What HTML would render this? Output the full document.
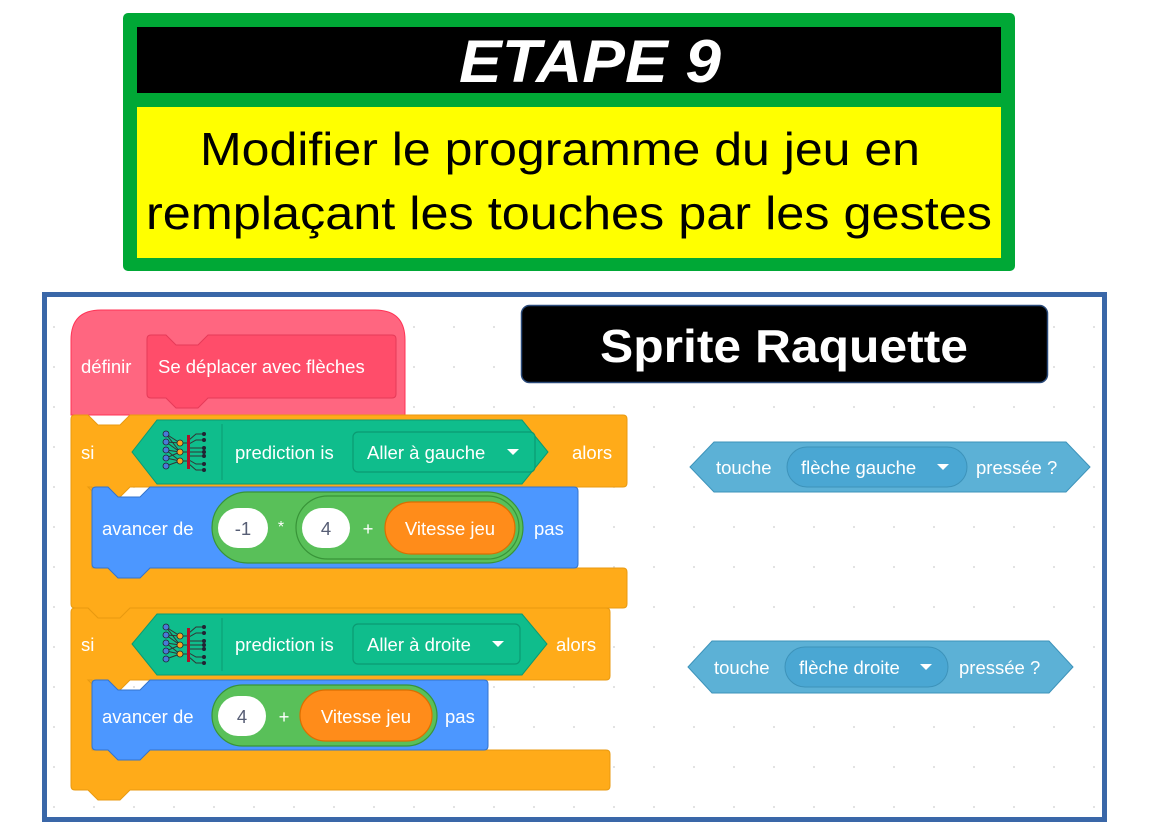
<!DOCTYPE html>
<html><head><meta charset="utf-8"><style>
html,body{margin:0;padding:0;background:#fff;width:1168px;height:832px;overflow:hidden}
svg{display:block}
text{font-family:"Liberation Sans",sans-serif}
</style></head><body>
<svg width="1168" height="832" viewBox="0 0 1168 832" xmlns="http://www.w3.org/2000/svg">
<defs>
<pattern id="dots" x="0" y="0" width="40" height="40" patternUnits="userSpaceOnUse">
<circle cx="14" cy="7" r="1" fill="#d8d8d8"/>
</pattern>
<g id="nn">
<g stroke="#333" stroke-width="1" fill="none">
<path d="M0 0 L14 9 M0 8 L14 9 M0 8 L14 18 M0 16 L14 18 M0 16 L14 27 M0 24 L14 27 M0 24 L14 18 M0 32 L14 27 M0 0 L14 18"/>
<path d="M14 9 H23 M14 18 H23 M14 27 H23"/>
<path d="M23 6 L30 0 H38 M23 10 L30 6 H38 M23 14 H38 M23 18 H38 M23 22 H38 M23 26 L30 30 H38 M23 30 L30 36 H38"/>
</g>
<rect x="21" y="1" width="3" height="34" fill="#b0102a"/>
<g fill="#4a7ad8" stroke="#223" stroke-width="0.8"><circle cx="0" cy="0" r="3"/><circle cx="0" cy="8" r="3"/><circle cx="0" cy="16" r="3"/><circle cx="0" cy="24" r="3"/><circle cx="0" cy="32" r="3"/></g>
<g fill="#f5a623" stroke="#223" stroke-width="0.8"><circle cx="14" cy="9" r="3"/><circle cx="14" cy="18" r="3"/><circle cx="14" cy="27" r="3"/></g>
<g fill="#223"><circle cx="38" cy="0" r="2"/><circle cx="38" cy="6" r="2"/><circle cx="38" cy="14" r="2"/><circle cx="38" cy="18" r="2"/><circle cx="38" cy="22" r="2"/><circle cx="38" cy="30" r="2"/><circle cx="38" cy="36" r="2"/></g>
</g>
</defs>

<rect x="123" y="13" width="892" height="258" rx="5" fill="#00a836"/>
<rect x="137" y="27" width="864" height="66" fill="#000"/>
<rect x="137" y="107" width="864" height="151" fill="#ffff00"/>
<text x="590" y="82" text-anchor="middle" font-size="60" font-weight="bold" font-style="italic" fill="#fff" textLength="262" lengthAdjust="spacingAndGlyphs">ETAPE 9</text>
<text x="200" y="165" font-size="46" fill="#000" textLength="720" lengthAdjust="spacingAndGlyphs">Modifier le programme du jeu en</text>
<text x="146" y="229" font-size="46" fill="#000" textLength="846" lengthAdjust="spacingAndGlyphs">remplaçant les touches par les gestes</text>

<rect x="44.5" y="294.5" width="1060" height="525" fill="#fff" stroke="#3a67a8" stroke-width="5"/>
<rect x="48" y="298" width="1053" height="518" fill="url(#dots)"/>

<rect x="521.5" y="305.5" width="526" height="77" rx="8" fill="#000" stroke="#2a4a7a" stroke-width="1.5"/>
<text x="600" y="362" font-size="46" font-weight="bold" fill="#fff" textLength="368" lengthAdjust="spacingAndGlyphs">Sprite Raquette</text>

<path d="M71 415 V340 Q71 310 101 310 H375 Q405 310 405 340 V415 Z" fill="#ff6680" stroke="#ff3355" stroke-width="1"/>
<path d="M147 339 Q147 335 151 335 H166 L176 345 H198 L208 335 H392 Q396 335 396 339 V394 Q396 398 392 398 H208 L198 408 H176 L166 398 H151 Q147 398 147 394 Z" fill="#ff4d6a" stroke="#e63a58" stroke-width="1"/>
<text x="81" y="373" font-size="18.5" fill="#fff">définir</text>
<text x="158" y="373" font-size="18.5" fill="#fff">Se déplacer avec flèches</text>

<path d="M71 419 Q71 415 75 415 H88 L98 425 H120 L130 415 H623 Q627 415 627 419 V483 Q627 487 623 487 H130 L120 497 H98 L88 487 H92 V568 H623 Q627 568 627 572 V604 Q627 608 623 608 H130 L120 618 H98 L88 608 H75 Q71 608 71 604 Z" fill="#ffab19" stroke="#e89a10" stroke-width="1"/>
<text x="81" y="459" font-size="18.5" fill="#fff">si</text>
<text x="572" y="459" font-size="18.5" fill="#fff">alors</text>
<path d="M132 452 L157 420 H522 L548 452 L522 484 H157 Z" fill="#0fbd8c" stroke="#0b9a72" stroke-width="1"/>
<use href="#nn" x="166" y="434"/>
<line x1="222" y1="424" x2="222" y2="480" stroke="#0b9a72" stroke-width="1"/>
<text x="235" y="459" font-size="18.5" fill="#fff">prediction is</text>
<rect x="353" y="432" width="182" height="40" rx="5" fill="#0fbd8c" stroke="#0b9a72" stroke-width="1.2"/>
<text x="367" y="459" font-size="18.5" fill="#fff">Aller à gauche</text>
<path d="M507 449 L519 449 L513 455 Z" fill="#fff"/>

<path d="M92 491 Q92 487 96 487 H108 L118 497 H140 L150 487 H574 Q578 487 578 491 V564 Q578 568 574 568 H150 L140 578 H118 L108 568 H96 Q92 568 92 564 Z" fill="#4c97ff" stroke="#3373cc" stroke-width="1"/>
<text x="102" y="535" font-size="18.5" fill="#fff">avancer de</text>
<rect x="212" y="492" width="311" height="71" rx="35.5" fill="#59c059" stroke="#389438" stroke-width="1.2"/>
<rect x="218" y="508" width="50" height="40" rx="20" fill="#fff"/>
<text x="243" y="535" text-anchor="middle" font-size="18.5" fill="#575e75">-1</text>
<text x="281" y="532" text-anchor="middle" font-size="16" fill="#fff">*</text>
<rect x="296" y="496" width="223" height="63" rx="31.5" fill="#59c059" stroke="#389438" stroke-width="1.2"/>
<rect x="302" y="508" width="48" height="40" rx="20" fill="#fff"/>
<text x="326" y="535" text-anchor="middle" font-size="18.5" fill="#575e75">4</text>
<text x="368" y="535" text-anchor="middle" font-size="18.5" fill="#fff">+</text>
<rect x="385" y="502" width="130" height="52" rx="26" fill="#ff8c1a" stroke="#db6e00" stroke-width="1.2"/>
<text x="450" y="535" text-anchor="middle" font-size="18.5" fill="#fff">Vitesse jeu</text>
<text x="534" y="535" font-size="18.5" fill="#fff">pas</text>

<path d="M71 612 Q71 608 75 608 H88 L98 618 H120 L130 608 H606 Q610 608 610 612 V676 Q610 680 606 680 H130 L120 690 H98 L88 680 H92 V750 H606 Q610 750 610 754 V786 Q610 790 606 790 H130 L120 800 H98 L88 790 H75 Q71 790 71 786 Z" fill="#ffab19" stroke="#e89a10" stroke-width="1"/>
<text x="81" y="651" font-size="18.5" fill="#fff">si</text>
<text x="556" y="651" font-size="18.5" fill="#fff">alors</text>
<path d="M132 644 L157 614 H522 L547 644 L522 675 H157 Z" fill="#0fbd8c" stroke="#0b9a72" stroke-width="1"/>
<use href="#nn" x="166" y="627"/>
<line x1="222" y1="618" x2="222" y2="671" stroke="#0b9a72" stroke-width="1"/>
<text x="235" y="651" font-size="18.5" fill="#fff">prediction is</text>
<rect x="353" y="624" width="167" height="40" rx="5" fill="#0fbd8c" stroke="#0b9a72" stroke-width="1.2"/>
<text x="367" y="651" font-size="18.5" fill="#fff">Aller à droite</text>
<path d="M492 641 L504 641 L498 647 Z" fill="#fff"/>

<path d="M92 684 Q92 680 96 680 H108 L118 690 H140 L150 680 H484 Q488 680 488 684 V746 Q488 750 484 750 H150 L140 760 H118 L108 750 H96 Q92 750 92 746 Z" fill="#4c97ff" stroke="#3373cc" stroke-width="1"/>
<text x="102" y="723" font-size="18.5" fill="#fff">avancer de</text>
<rect x="212" y="685" width="225" height="61" rx="30.5" fill="#59c059" stroke="#389438" stroke-width="1.2"/>
<rect x="218" y="696" width="48" height="40" rx="20" fill="#fff"/>
<text x="242" y="723" text-anchor="middle" font-size="18.5" fill="#575e75">4</text>
<text x="284" y="723" text-anchor="middle" font-size="18.5" fill="#fff">+</text>
<rect x="300" y="690" width="132" height="51" rx="25.5" fill="#ff8c1a" stroke="#db6e00" stroke-width="1.2"/>
<text x="366" y="723" text-anchor="middle" font-size="18.5" fill="#fff">Vitesse jeu</text>
<text x="445" y="723" font-size="18.5" fill="#fff">pas</text>

<path d="M690 467 L714 442 H1066 L1090 467 L1066 492 H714 Z" fill="#5cb1d6" stroke="#3d93ba" stroke-width="1"/>
<text x="716" y="474" font-size="18.5" fill="#fff">touche</text>
<rect x="787" y="447" width="180" height="40" rx="20" fill="#4aa7d3" stroke="#3d93ba" stroke-width="1"/>
<text x="801" y="474" font-size="18.5" fill="#fff">flèche gauche</text>
<path d="M937 464 L949 464 L943 470 Z" fill="#fff"/>
<text x="976" y="474" font-size="18.5" fill="#fff">pressée ?</text>

<path d="M688 667 L712 641 H1049 L1073 667 L1049 693 H712 Z" fill="#5cb1d6" stroke="#3d93ba" stroke-width="1"/>
<text x="714" y="674" font-size="18.5" fill="#fff">touche</text>
<rect x="785" y="647" width="163" height="40" rx="20" fill="#4aa7d3" stroke="#3d93ba" stroke-width="1"/>
<text x="799" y="674" font-size="18.5" fill="#fff">flèche droite</text>
<path d="M920 664 L932 664 L926 670 Z" fill="#fff"/>
<text x="959" y="674" font-size="18.5" fill="#fff">pressée ?</text>
</svg>
</body></html>
